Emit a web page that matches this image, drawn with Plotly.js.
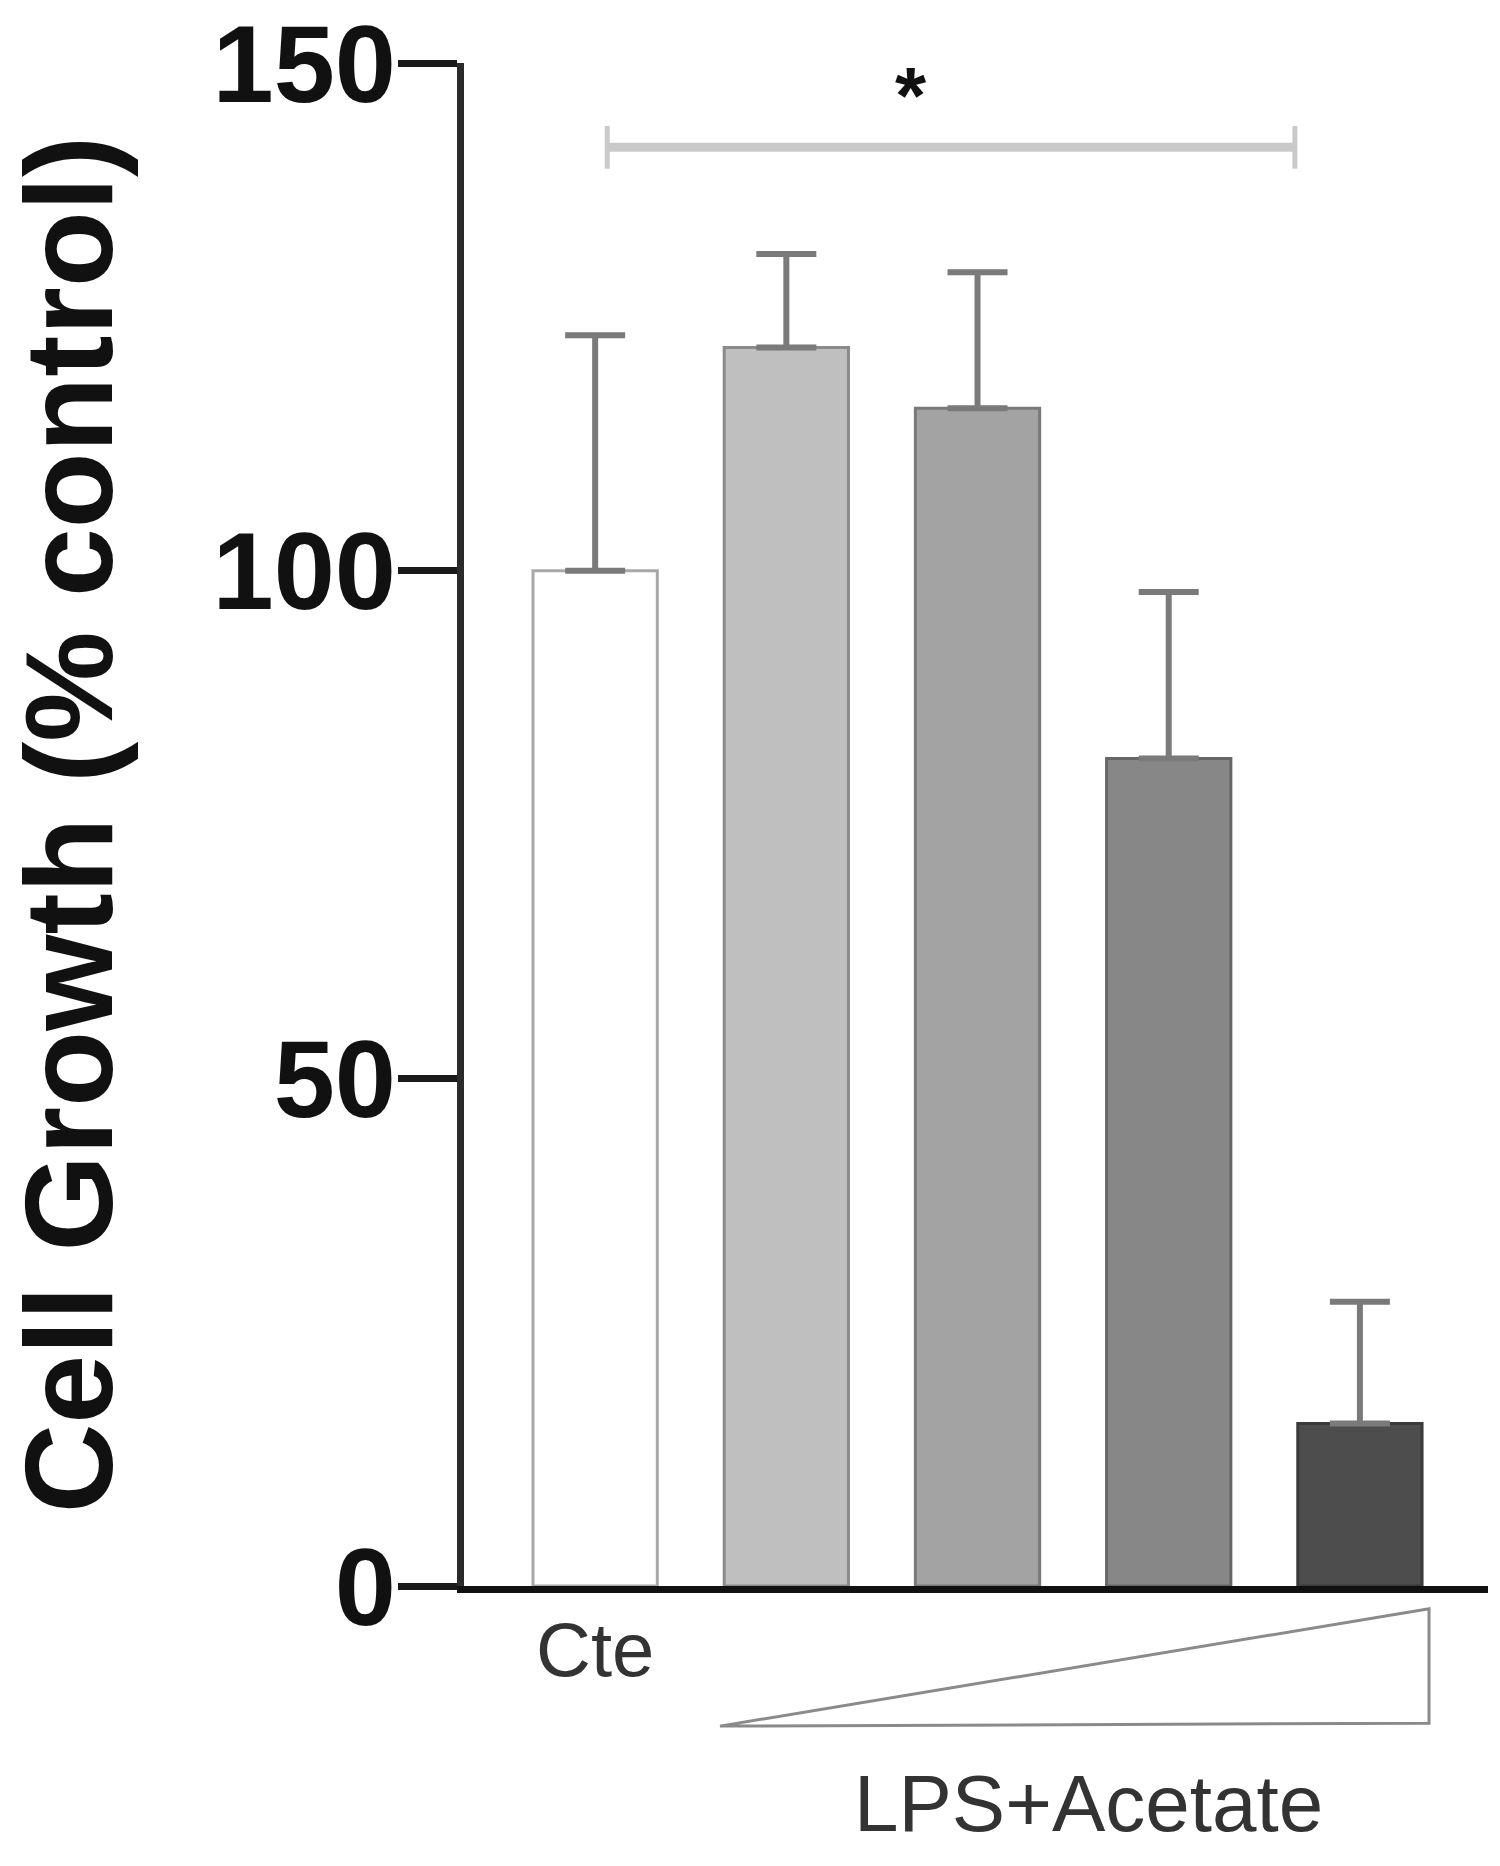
<!DOCTYPE html>
<html>
<head>
<meta charset="utf-8">
<script src="https://cdn.plot.ly/plotly-3.0.1.min.js"></script>
<style>html,body{margin:0;padding:0;background:#fff;}#chart{width:1500px;height:1866px;}</style>
</head>
<body>
<div id="chart"></div>
<script>
// Data
const groups = [0, 1, 2, 3, 4];
const groupNames = ['Cte', 'LPS+Acetate 1', 'LPS+Acetate 2', 'LPS+Acetate 3', 'LPS+Acetate 4'];
const growth = [100, 122, 116, 81.5, 16];
const growthErr = [23.2, 9.2, 13.4, 16.4, 12];
const tickVals = [0, 50, 100, 150];
const firstLabel = ['Cte'];
const groupLabel = 'LPS+Acetate';
const sigLabel = '*';

const fills = ['#ffffff', '#bfbfbf', '#a3a3a3', '#878787', '#4d4d4d'];
const outlines = ['#a8a8a8', '#8a8a8a', '#7a7a7a', '#666666', '#3a3a3a'];

const FONT = 'Liberation Sans, Arial, Helvetica, sans-serif';

const trace = {
  type: 'bar',
  x: groups,
  y: growth,
  hovertext: groupNames,
  hoverinfo: 'text+y',
  textposition: 'none',
  width: 0.65,
  marker: {color: fills, line: {color: outlines, width: 3}},
  error_y: {type: 'data', array: growthErr, symmetric: false, arrayminus: growthErr.map(() => 0),
            color: '#7a7a7a', thickness: 6, width: 30},
  cliponaxis: false
};

const layout = {
  width: 1500, height: 1866,
  margin: {l: 464, r: 12, t: 63, b: 280},
  paper_bgcolor: '#ffffff', plot_bgcolor: '#ffffff',
  showlegend: false,
  font: {family: FONT, color: '#1a1a1a'},
  xaxis: {
    range: [-0.686, 4.67],
    showgrid: false, zeroline: false,
    showline: true, linecolor: '#111111', linewidth: 7,
    ticks: '', tickvals: [0], ticktext: firstLabel,
    tickfont: {family: FONT, size: 76, color: '#333333'},
    ticklabelstandoff: -8,
    ticklabeloverflow: 'allow'
  },
  yaxis: {
    range: [0, 150.01],
    showgrid: false, zeroline: false,
    showline: true, linecolor: '#2b2b2b', linewidth: 7,
    ticks: 'outside', ticklen: 59, tickwidth: 7, tickcolor: '#1a1a1a',
    tickvals: tickVals,
    tickfont: {family: FONT, size: 110, color: '#111111', weight: 'bold'},
    ticklabelstandoff: -20,
    ticklabeloverflow: 'allow',
    title: {text: '<b>Cell Growth (% control)</b>', font: {family: FONT, size: 124, color: '#111111'}, standoff: 100}
  },
  shapes: [
    // significance bracket
    {type: 'line', xref: 'x', yref: 'y', x0: 0.063, x1: 3.66, y0: 141.7, y1: 141.7, line: {color: '#c9c9c9', width: 9}},
    {type: 'line', xref: 'x', yref: 'y', x0: 0.063, x1: 0.063, y0: 139.6, y1: 143.8, line: {color: '#c9c9c9', width: 5}},
    {type: 'line', xref: 'x', yref: 'y', x0: 3.66, x1: 3.66, y0: 139.6, y1: 143.8, line: {color: '#c9c9c9', width: 5}},
    // increasing concentration wedge
    {type: 'path', xref: 'paper', yref: 'paper',
     path: 'M 0.25 -0.0920 L 0.9424 -0.0150 L 0.9424 -0.0901 Z',
     fillcolor: '#ffffff', line: {color: '#8a8a8a', width: 3}}
  ],
  annotations: [
    {xref: 'x', yref: 'y', x: 1.654, y: 146.8, text: '<b>' + sigLabel + '</b>', showarrow: false,
     font: {family: FONT, size: 80, color: '#111111'}, yanchor: 'middle'},
    {xref: 'paper', yref: 'paper', x: 0.61, y: -0.112, text: groupLabel, showarrow: false,
     font: {family: FONT, size: 80, color: '#333333'}, xanchor: 'center', yanchor: 'top'}
  ]
};

Plotly.newPlot('chart', [trace], layout, {displayModeBar: false, staticPlot: true});
</script>
</body>
</html>
